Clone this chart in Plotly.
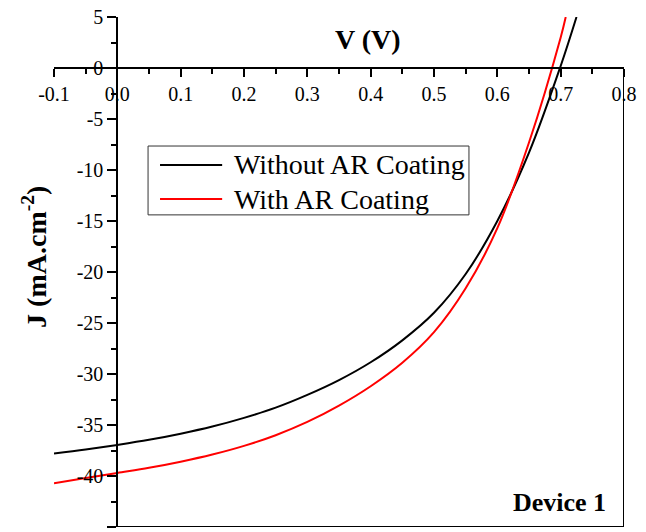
import plotly.graph_objects as go

# Data
v_without = [-0.1, -0.05, 0.0, 0.05, 0.1, 0.15, 0.2, 0.25, 0.3, 0.35, 0.4, 0.45, 0.5,
             0.55, 0.6, 0.65, 0.7, 0.725]
j_without = [-37.8, -37.4, -36.95, -36.45, -35.85, -35.15, -34.3, -33.3, -32.05, -30.6, -28.85,
             -26.7, -24.0, -20.2, -15.0, -8.3, 0.2, 5.0]

v_with = [-0.1, -0.05, 0.0, 0.05, 0.1, 0.15, 0.2, 0.25, 0.3, 0.35, 0.4, 0.45, 0.5,
          0.55, 0.6, 0.65, 0.7, 0.708]
j_with = [-40.7, -40.2, -39.7, -39.2, -38.6, -37.9, -37.05, -36.0, -34.7, -33.1, -31.2,
          -28.9, -25.9, -21.6, -15.7, -7.3, 3.0, 5.0]

series_names = ["Without AR Coating", "With AR Coating"]
series_colors = ["#000000", "#ff0000"]

x_range = [-0.1, 0.8]
y_range = [-45, 5]
x_tickvals = [-0.1, 0.0, 0.1, 0.2, 0.3, 0.4, 0.5, 0.6, 0.7, 0.8]
x_ticktext = ["-0.1", "0.0", "0.1", "0.2", "0.3", "0.4", "0.5", "0.6", "0.7", "0.8"]
y_tickvals = [5, 0, -5, -10, -15, -20, -25, -30, -35, -40, -45]
y_ticktext = ["5", "0", "-5", "-10", "-15", "-20", "-25", "-30", "-35", "-40", "-45"]

FONT = "Liberation Serif"

fig = go.Figure()
fig.add_trace(go.Scatter(x=v_without, y=j_without, mode="lines", name=series_names[0],
                         showlegend=False,
                         line=dict(color=series_colors[0], width=2, shape="spline", smoothing=1.0)))
fig.add_trace(go.Scatter(x=v_with, y=j_with, mode="lines", name=series_names[1],
                         showlegend=False,
                         line=dict(color=series_colors[1], width=2, shape="spline", smoothing=1.0)))

# position of crossing axes (fractions of plot area)
y_axis_pos = (0 - x_range[0]) / (x_range[1] - x_range[0])
x_axis_pos = (0 - y_range[0]) / (y_range[1] - y_range[0])

# legend box (paper coordinates)
leg_x0, leg_x1, leg_y0, leg_y1 = 0.165, 0.728, 0.612, 0.747
leg_line_x0, leg_line_x1 = 0.186, 0.295
leg_rows = [0.710, 0.643]
leg_text_x = 0.312

shapes = [
    dict(type="line", xref="x", yref="y", x0=x_range[1], x1=x_range[1], y0=0, y1=y_range[0],
         line=dict(color="black", width=2)),
    dict(type="line", xref="x", yref="y", x0=0, x1=x_range[1], y0=y_range[0], y1=y_range[0],
         line=dict(color="black", width=2)),
    dict(type="rect", xref="paper", yref="paper", x0=leg_x0, x1=leg_x1, y0=leg_y0, y1=leg_y1,
         line=dict(color="#333333", width=1), fillcolor="rgba(0,0,0,0)"),
]
annotations = [
    dict(text="<b>V (V)</b>", xref="paper", yref="paper", x=0.551, y=0.955,
         xanchor="center", yanchor="middle",
         showarrow=False, font=dict(family=FONT, size=28, color="black")),
    dict(text="<b>J (mA.cm<sup>-2</sup>)</b>", xref="paper", yref="paper", x=-0.033, y=0.53,
         xanchor="center", yanchor="middle",
         textangle=-90, showarrow=False, font=dict(family=FONT, size=28, color="black")),
    dict(text="<b>Device 1</b>", xref="paper", yref="paper", x=0.972, y=0.049,
         xanchor="right", yanchor="middle", showarrow=False,
         font=dict(family=FONT, size=26, color="black")),
]
for name, color, row in zip(series_names, series_colors, leg_rows):
    shapes.append(dict(type="line", xref="paper", yref="paper", x0=leg_line_x0, x1=leg_line_x1,
                       y0=row, y1=row, line=dict(color=color, width=2)))
    annotations.append(dict(text=name, xref="paper", yref="paper", x=leg_text_x, y=row,
                            xanchor="left", yanchor="middle", showarrow=False,
                            font=dict(family=FONT, size=28, color="black")))

fig.update_layout(
    width=646, height=532,
    margin=dict(l=54, r=22, t=17, b=5),
    paper_bgcolor="white", plot_bgcolor="white",
    font=dict(family=FONT, color="black", size=20),
    showlegend=False,
    xaxis=dict(range=x_range, anchor="free", position=x_axis_pos, side="bottom",
               showline=True, linecolor="black", linewidth=2, showgrid=False, zeroline=False,
               ticks="outside", ticklen=8, tickwidth=2, tickcolor="black",
               tickmode="array", tickvals=x_tickvals, ticktext=x_ticktext,
               minor=dict(dtick=0.05, tick0=0, ticks="outside", ticklen=5, tickwidth=2,
                          tickcolor="black", showgrid=False),
               tickfont=dict(family=FONT, size=20, color="black")),
    yaxis=dict(range=y_range, anchor="free", position=y_axis_pos, side="left",
               showline=True, linecolor="black", linewidth=2, showgrid=False, zeroline=False,
               ticks="outside", ticklen=9, tickwidth=2, tickcolor="black",
               tickmode="array", tickvals=y_tickvals, ticktext=y_ticktext,
               minor=dict(dtick=2.5, tick0=0, ticks="outside", ticklen=5, tickwidth=2,
                          tickcolor="black", showgrid=False),
               tickfont=dict(family=FONT, size=20, color="black")),
    shapes=shapes,
    annotations=annotations,
)

fig.write_html("out.html")
